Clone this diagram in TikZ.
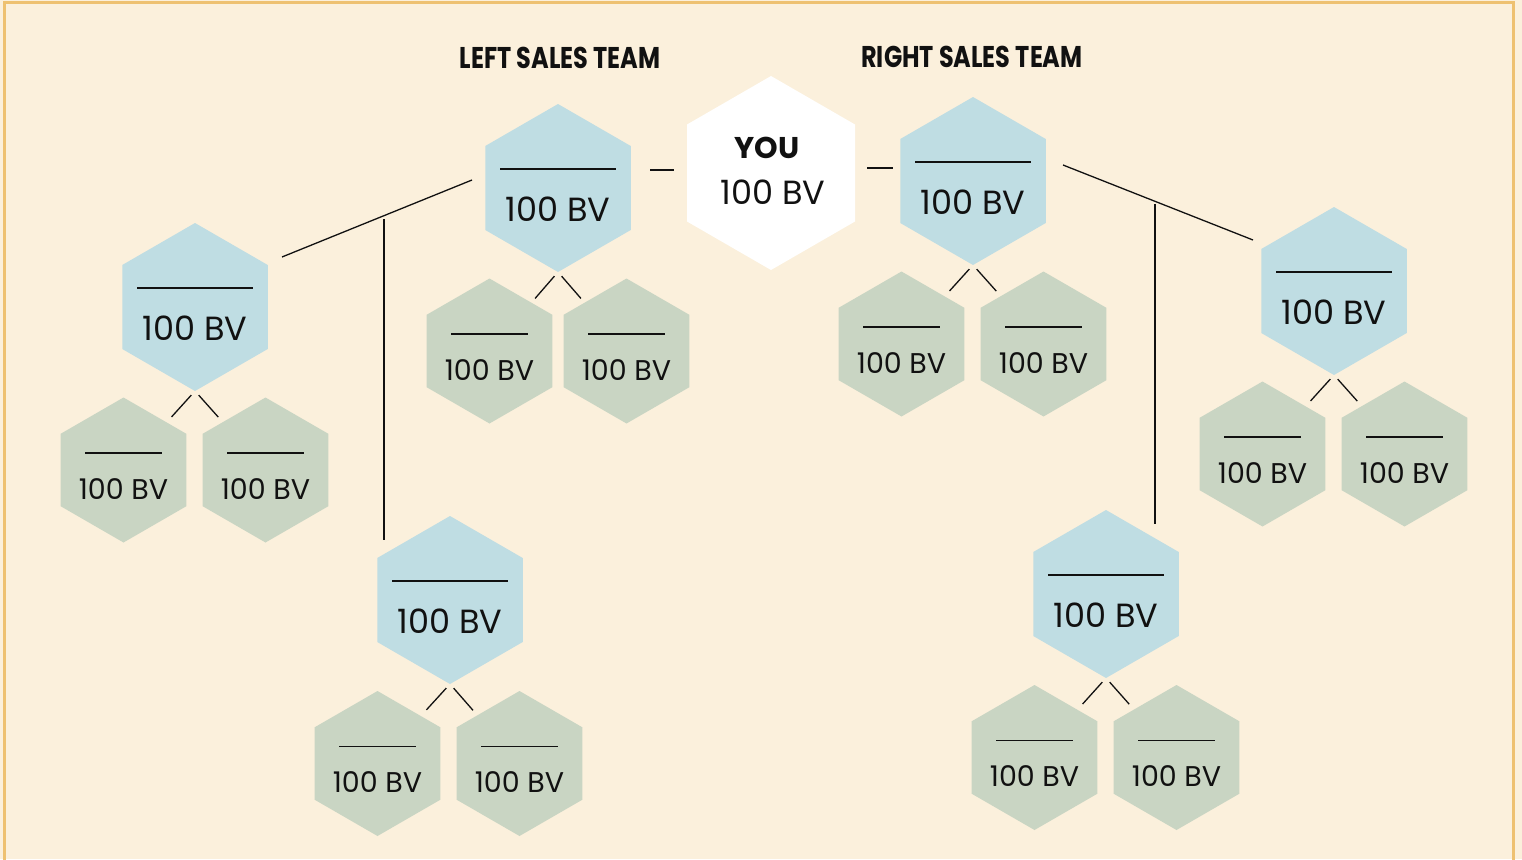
\documentclass[tikz,border=0pt]{standalone}
\usepackage{fontspec}
\setmainfont{Poppins}
\newfontfamily\headfont[FakeStretch=0.8]{Poppins}
\usetikzlibrary{shapes.geometric,calc}
\definecolor{bgc}{HTML}{FBF0DC}
\definecolor{borderc}{HTML}{EEC171}
\definecolor{bluec}{HTML}{BFDDE3}
\definecolor{greenc}{HTML}{C9D5C3}
\definecolor{inkc}{HTML}{111111}
\tikzset{
  hexbase/.style={regular polygon, regular polygon sides=6, shape border rotate=30,
    inner sep=0pt, outer sep=0pt, draw=none},
  youhex/.style={hexbase, minimum size=194pt, fill=white},
  bluehex/.style={hexbase, minimum size=168pt, fill=bluec},
  greenhex/.style={hexbase, minimum size=145pt, fill=greenc},
  bigtxt/.style={inner sep=0pt, text=inkc, font=\fontsize{33.5}{33.5}\selectfont},
  smalltxt/.style={inner sep=0pt, text=inkc, font=\fontsize{28.5}{28.5}\selectfont},
  youtxt/.style={inner sep=0pt, text=inkc, font=\fontsize{30}{30}\selectfont\bfseries},
  headtxt/.style={inner sep=0pt, text=inkc, font=\headfont\bfseries\fontsize{30}{30}\selectfont},
  blankline/.style={draw=inkc, line width=1.1pt},
  conn/.style={draw=inkc, line width=1.3pt},
}
\newcommand\BlueHex[3]{%
  \node[bluehex] (#1) at (#2,#3) {};
  \draw[blankline] ([shift={(-58,-19)}]#1.center) -- ([shift={(58,-19)}]#1.center);
  \node[bigtxt] (#1t) at ([shift={(0,21.5)}]#1.center) {100 BV};
}
\newcommand\GreenHex[3]{%
  \node[greenhex] (#1) at (#2,#3) {};
  \draw[blankline] ([shift={(-38.5,-17)}]#1.center) -- ([shift={(38.5,-17)}]#1.center);
  \node[smalltxt] (#1t) at ([shift={(0,19)}]#1.center) {100 BV};
}
\newcommand\Fork[3]{%
  \draw[conn] ($(#1.south)!5.5pt!(#2.center)$) -- ($(#1.south)!35pt!(#2.center)$);
  \draw[conn] ($(#1.south)!5.5pt!(#3.center)$) -- ($(#1.south)!35pt!(#3.center)$);
}
\begin{document}
\begin{tikzpicture}[x=1pt,y=-1pt]
\useasboundingbox (0,0) rectangle (1522,859);
\fill[bgc] (0,0) rectangle (1522,859);
\draw[borderc, line width=3pt] (4.5,880) -- (4.5,2.2) -- (1513.8,2.2) -- (1513.8,880);

% headers
\node[headtxt] (lefthead) at (560,58) {LEFT SALES TEAM};
\node[headtxt] (righthead) at (972,57) {RIGHT SALES TEAM};

% you
\node[youhex] (you) at (771,173) {};
\node[youtxt] (yout) at ([shift={(-4,-25.5)}]you.center) {YOU};
\node[bigtxt] (youbv) at ([shift={(2,19)}]you.center) {100 BV};

% blue hexagons
\BlueHex{b1}{558}{188}
\BlueHex{b2}{973}{181}
\BlueHex{b3}{195}{307}
\BlueHex{b4}{1334}{291}
\BlueHex{b5}{450}{600}
\BlueHex{b6}{1106}{594}

% green hexagons
\GreenHex{g1a}{489.5}{351}
\GreenHex{g1b}{626.5}{351}
\GreenHex{g2a}{901.5}{344}
\GreenHex{g2b}{1043.5}{344}
\GreenHex{g3a}{123.5}{470}
\GreenHex{g3b}{265.5}{470}
\GreenHex{g4a}{1262.5}{454}
\GreenHex{g4b}{1404.5}{454}
\GreenHex{g5a}{377.5}{763.5}
\GreenHex{g5b}{519.5}{763.5}
\GreenHex{g6a}{1034.5}{757.5}
\GreenHex{g6b}{1176.5}{757.5}

% forks
\Fork{b1}{g1a}{g1b}
\Fork{b2}{g2a}{g2b}
\Fork{b3}{g3a}{g3b}
\Fork{b4}{g4a}{g4b}
\Fork{b5}{g5a}{g5b}
\Fork{b6}{g6a}{g6b}

% dashes next to YOU
\draw[conn] ([shift={(-121,-3)}]you.center) -- ([shift={(-97,-3)}]you.center);
\draw[conn] ([shift={(96,-5)}]you.center) -- ([shift={(122,-5)}]you.center);

% left team connectors
\coordinate (ld1) at ([shift={(87,-50)}]b3.center);
\coordinate (ld2) at ([shift={(-86,-8)}]b1.center);
\coordinate (lv1) at ([shift={(-66,-381)}]b5.center);
\coordinate (lv2) at ([shift={(-66,-60)}]b5.center);
\draw[conn] (ld1) -- (ld2);
\draw[conn] (lv1) -- (lv2);

% right team connectors
\coordinate (rd1) at ([shift={(90,-16)}]b2.center);
\coordinate (rd2) at ([shift={(-81,-51)}]b4.center);
\coordinate (rv1) at ([shift={(49,-390)}]b6.center);
\coordinate (rv2) at ([shift={(49,-70)}]b6.center);
\draw[conn] (rd1) -- (rd2);
\draw[conn] (rv1) -- (rv2);
\end{tikzpicture}
\end{document}
